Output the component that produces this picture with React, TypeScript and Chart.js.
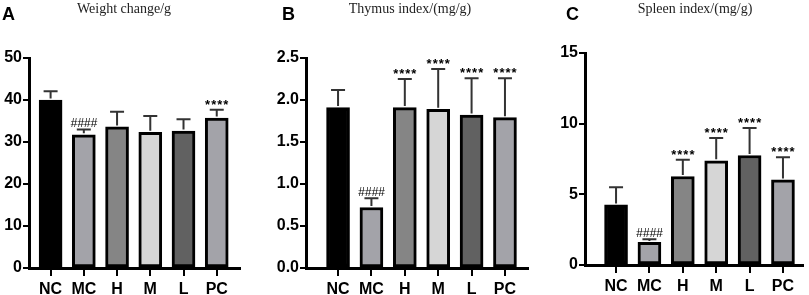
import React, { useEffect, useRef } from "react";
import { Chart, registerables } from "chart.js";

Chart.register(...registerables);

const categories = ["NC", "MC", "H", "M", "L", "PC"];
const barColors = ["#000000", "#a3a3a9", "#858585", "#d6d6d6", "#616161", "#a3a3a9"];

const weightMean = [40.0, 31.7, 33.6, 32.3, 32.6, 35.7];
const weightSd = [2.1, 1.3, 3.6, 3.9, 2.8, 2.0];
const weightMarks = ["", "####", "", "", "", "****"];

const thymusMean = [1.91, 0.72, 1.91, 1.89, 1.82, 1.79];
const thymusSd = [0.21, 0.11, 0.34, 0.48, 0.44, 0.47];
const thymusMarks = ["", "####", "****", "****", "****", "****"];

const spleenMean = [4.25, 1.6, 6.26, 7.37, 7.75, 6.02];
const spleenSd = [1.25, 0.22, 1.18, 1.61, 1.94, 1.61];
const spleenMarks = ["", "####", "****", "****", "****", "****"];

const weightTicks = { max: 50, step: 10, decimals: 0 };
const thymusTicks = { max: 2.5, step: 0.5, decimals: 1 };
const spleenTicks = { max: 15, step: 5, decimals: 0 };

type PanelProps = {
  letter: string;
  title: string;
  mean: number[];
  sd: number[];
  marks: string[];
  yMax: number;
  yStep: number;
  decimals: number;
  left: number;
  width: number;
  areaLeft: number;
  areaRight: number;
  areaTop: number;
  areaBottom: number;
  xMin: number;
  xMax: number;
  letterX: number;
  titleX: number;
};

const H = 295;
const SANS = "Arial, 'Liberation Sans', sans-serif";

function Panel(p: PanelProps) {
  const ref = useRef<HTMLCanvasElement | null>(null);
  useEffect(() => {
    const canvas = ref.current;
    if (!canvas) return;
    const errorPlugin = {
      id: "errbars",
      afterDatasetsDraw(chart: any) {
        const ctx = chart.ctx;
        const xs = chart.scales.x;
        const ys = chart.scales.y;
        ctx.save();
        for (let i = 0; i < p.mean.length; i++) {
          const x = xs.getPixelForValue(i);
          const yb = ys.getPixelForValue(p.mean[i]);
          const yt = ys.getPixelForValue(p.mean[i] + p.sd[i]);
          ctx.strokeStyle = "#333333";
          ctx.lineWidth = 2;
          ctx.beginPath();
          ctx.moveTo(x, yb - 1.5);
          ctx.lineTo(x, yt);
          ctx.moveTo(x - 7, yt);
          ctx.lineTo(x + 7, yt);
          ctx.stroke();
          const m = p.marks[i];
          if (m) {
            ctx.fillStyle = "#000";
            ctx.textAlign = "center";
            ctx.textBaseline = "alphabetic";
            if (m.startsWith("*")) {
              ctx.font = "bold 13px " + SANS;
              (ctx as any).letterSpacing = "1px";
              ctx.fillText(m, x + 0.5, yt - 1);
              (ctx as any).letterSpacing = "0px";
            } else {
              ctx.font = "italic 12px " + SANS;
              ctx.fillText(m, x, yt - 2);
            }
          }
        }
        ctx.restore();
      },
    };
    const textPlugin = {
      id: "paneltext",
      afterDraw(chart: any) {
        const ctx = chart.ctx;
        ctx.save();
        ctx.fillStyle = "#000";
        ctx.textBaseline = "alphabetic";
        ctx.textAlign = "left";
        ctx.font = "bold 18px " + SANS;
        ctx.fillText(p.letter, p.letterX, 20);
        ctx.textAlign = "center";
        ctx.fillStyle = "#222";
        ctx.font = "14px 'Liberation Serif', 'Times New Roman', serif";
        ctx.fillText(p.title, p.titleX, 13);
        ctx.restore();
      },
    };
    const chart = new Chart(canvas, {
      type: "bar",
      data: {
        datasets: [
          {
            data: p.mean.map((v, i) => ({ x: i, y: v })),
            backgroundColor: barColors,
            borderColor: "#000",
            borderWidth: 3,
            borderSkipped: false,
            barThickness: 23,
          } as any,
        ],
      },
      options: {
        responsive: false,
        animation: false,
        devicePixelRatio: 1,
        layout: {
          padding: { left: 0, right: p.width - p.areaRight, top: p.areaTop, bottom: 0 },
        },
        plugins: { legend: { display: false }, tooltip: { enabled: false } },
        scales: {
          x: {
            type: "linear",
            min: p.xMin,
            max: p.xMax,
            offset: false,
            grid: {
              offset: false,
              drawOnChartArea: false,
              drawTicks: true,
              tickLength: 8,
              color: "#000",
              lineWidth: 2,
            },
            border: { display: true, color: "#000", width: 3 },
            afterBuildTicks: (s: any) => {
              s.ticks = categories.map((_, i) => ({ value: i }));
            },
            afterFit: (s: any) => {
              s.height = H - p.areaBottom;
            },
            ticks: {
              callback: (v: any) => categories[Math.round(Number(v))],
              font: { family: SANS, weight: 700, size: 16 },
              color: "#000",
              padding: 4,
              autoSkip: false,
              maxRotation: 0,
            },
          },
          y: {
            min: 0,
            max: p.yMax,
            grid: {
              drawOnChartArea: false,
              drawTicks: true,
              tickLength: 6,
              color: "#000",
              lineWidth: 2,
            },
            border: { display: true, color: "#000", width: 3 },
            afterFit: (s: any) => {
              s.width = p.areaLeft;
            },
            ticks: {
              stepSize: p.yStep,
              callback: (v: any) => Number(v).toFixed(p.decimals),
              font: { family: SANS, weight: 700, size: 16 },
              color: "#000",
              padding: 1,
            },
          },
        },
      } as any,
      plugins: [errorPlugin, textPlugin],
    });
    return () => chart.destroy();
  }, []);
  return (
    <canvas
      ref={ref}
      width={p.width}
      height={H}
      style={{ position: "absolute", left: p.left, top: 0, width: p.width, height: H }}
    />
  );
}

export default function App() {
  return (
    <div style={{ position: "absolute", left: 0, top: 0, width: 809, height: H, background: "#fff" }}>
      <Panel
        letter="A"
        title="Weight change/g"
        mean={weightMean}
        sd={weightSd}
        marks={weightMarks}
        yMax={weightTicks.max}
        yStep={weightTicks.step}
        decimals={weightTicks.decimals}
        left={0}
        width={270}
        areaLeft={29}
        areaRight={240}
        areaTop={58}
        areaBottom={268}
        xMin={-0.65}
        xMax={5.7}
        letterX={2}
        titleX={124}
      />
      <Panel
        letter="B"
        title="Thymus index/(mg/g)"
        mean={thymusMean}
        sd={thymusSd}
        marks={thymusMarks}
        yMax={thymusTicks.max}
        yStep={thymusTicks.step}
        decimals={thymusTicks.decimals}
        left={270}
        width={270}
        areaLeft={36}
        areaRight={258}
        areaTop={58}
        areaBottom={268}
        xMin={-0.96}
        xMax={5.69}
        letterX={12}
        titleX={140}
      />
      <Panel
        letter="C"
        title="Spleen index/(mg/g)"
        mean={spleenMean}
        sd={spleenSd}
        marks={spleenMarks}
        yMax={spleenTicks.max}
        yStep={spleenTicks.step}
        decimals={spleenTicks.decimals}
        left={540}
        width={269}
        areaLeft={45}
        areaRight={263}
        areaTop={53}
        areaBottom={265}
        xMin={-0.93}
        xMax={5.6}
        letterX={26}
        titleX={155}
      />
    </div>
  );
}
